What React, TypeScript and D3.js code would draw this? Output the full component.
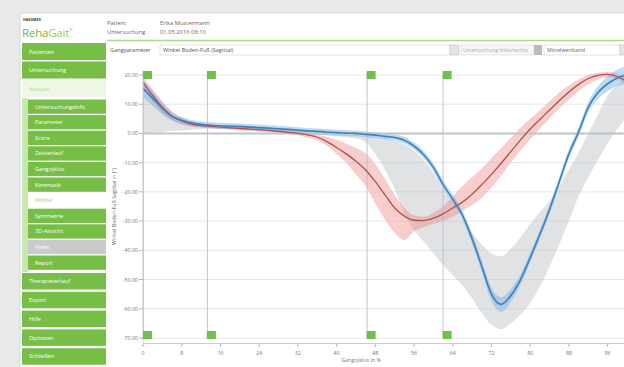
import React from "react";
import * as d3 from "d3";

const PCT = [0,2,4,6,8,10,12,14,20,26,30,34,36,38,40,42,44,46,48,50,52,54,56,58,60,62,64,66,68,70,72,74,76,78,80,82,84,86,88,90,92,94,96,98,100];
const RED_MEAN = [17.5,13,9,6,4.3,3.2,2.7,2.4,1.7,1,0.4,-0.5,-1.3,-2.8,-4.8,-7,-9.5,-12.5,-16.5,-21,-25.5,-28.3,-29.7,-29.8,-29,-27.5,-25.5,-23.5,-20.8,-17.5,-14,-10.2,-6.2,-2.2,1.5,4.8,8,11.2,14.2,16.8,18.8,19.9,20.2,19.4,17.8];
const RED_HI = [19.5,15,11,7.5,5.5,4.2,3.5,3.1,2.4,1.6,1,0.2,-0.4,-1.2,-2.2,-3.5,-5,-6.8,-10.5,-15.5,-21,-25.5,-28,-28.5,-27.2,-25,-21.5,-18,-15,-12,-8.5,-5,-1.5,2,5,8,11,14,16.5,18.5,20,20.8,21,20.4,18.8];
const RED_LO = [15.5,11,7,4.5,3,2.3,2,1.8,1.1,0.4,-0.3,-1.4,-2.4,-4.2,-7,-10,-14,-18,-24,-29.5,-34,-36.5,-33.5,-32,-31,-30,-28.5,-26.5,-24.5,-22,-18.5,-14.5,-10,-5.8,-2,1.5,5,8.5,11.5,14.5,16.8,18.4,19.2,18.5,16.5];
const BLUE_MEAN = [15.4,12,8.6,5.8,4.5,3.6,3.1,2.8,2.4,1.8,1.4,0.9,0.7,0.5,0.3,0.1,0,-0.3,-0.6,-1,-1.4,-2.3,-4.3,-7.3,-11.6,-17.5,-22.5,-28,-36,-45.5,-55,-58.5,-55.5,-50,-42.5,-34.5,-26,-16.5,-7,0.5,9,14,17,19,20];
const BLUE_SD = [3,2.6,2,1.4,1.1,1,1,1,1,1,1,1,1,1,1,1,1,1,1,1,1,1.1,1.2,1.3,1.4,1.5,1.6,1.7,1.8,2,2.3,2.5,2.2,1.8,1.6,1.5,1.5,1.5,1.5,1.6,1.8,2.2,2.6,2.8,3];
const NORM_HI = [17,13,9,6,4.5,3.5,2.9,2.6,2.2,1.7,1.3,0.8,0.5,0.3,0,-0.2,-0.4,-0.7,-1.1,-1.6,-2.4,-3.8,-6,-9.3,-13.5,-19,-24,-29.5,-34,-38,-41,-42,-39.5,-35.5,-31,-27,-23,-18,-12.5,-6.5,0,6.5,13,16.5,18.5];
const NORM_LO = [0,0.2,0.5,0.8,1,1.3,1.5,1.7,1.4,1,0.6,0,-0.4,-0.7,-1,-1.3,-1.7,-3,-7,-12.5,-19,-27.5,-33,-37,-41,-45,-48.5,-52,-56.5,-61.5,-65.5,-67,-65,-62,-58,-52.5,-45.5,-38,-30,-21.5,-15,-9,-3.4,1.5,5.5];
const EVENTS = [0, 13.2, 46.2, 61.9];
const Y_TICKS = [20,10,0,-10,-20,-30,-40,-50,-60,-70];
const X_TICKS = [0,8,16,24,32,40,48,56,64,72,80,88,96];

const MENU_TOP = ["Patienten","Untersuchung","Analyse"];
const MENU_SUB = ["Untersuchungsinfo","Parameter","Score","Zeitverlauf","Gangzyklus","Kinematik","Winkel","Symmetrie","3D-Ansicht","Video","Report"];
const MENU_BOTTOM = ["Therapieverlauf","Export","Hilfe","Optionen","Schließen"];

const FONT = "'Open Sans', 'DejaVu Sans', sans-serif";
const GREEN = "#76be45";

export default function App() {
  const x = d3.scaleLinear().domain([0, 100]).range([143, 627]);
  const y = d3.scaleLinear().domain([-70, 20]).range([338, 75]);
  const fmt = d3.formatLocale({ decimal: ".", thousands: ",", grouping: [3], currency: ["", ""], minus: "-" }).format(".2f");

  const idx = PCT.map((_, i) => i);
  const band = (hi: number[], lo: number[]) =>
    d3.area<number>().x(i => x(PCT[i])).y0(i => y(lo[i])).y1(i => y(hi[i])).curve(d3.curveMonotoneX)(idx) || "";
  const line = (v: number[]) =>
    d3.line<number>().x(i => x(PCT[i])).y(i => y(v[i])).curve(d3.curveMonotoneX)(idx) || "";
  const blueHi = BLUE_MEAN.map((v, i) => v + BLUE_SD[i]);
  const blueLo = BLUE_MEAN.map((v, i) => v - BLUE_SD[i]);

  const menuItem = (label: string, x0: number, y0: number, h: number, kind: string, key: string) => {
    let fill = GREEN, color = "#ffffff";
    if (kind === "active") { fill = "#eef7e6"; color = "#b5da98"; }
    if (kind === "selected") { fill = "#ffffff"; color = "#9fd07c"; }
    if (kind === "gray") { fill = "#c9cacc"; color = "#ffffff"; }
    return (
      <g key={key}>
        <rect x={x0} y={y0} width={106 - x0} height={h} fill={fill} />
        <text x={x0 + 7} y={y0 + h / 2 + 2} fontSize={5.6} fill={color} fontFamily={FONT}>{label}</text>
      </g>
    );
  };

  return (
    <svg width={624} height={367} style={{ position: "absolute", left: 0, top: 0, display: "block" }}>
      <defs>
        <clipPath id="plot"><rect x={143} y={60} width={481} height={283} /></clipPath>
      </defs>
      <rect x={0} y={0} width={624} height={367} fill="#e8e9ea" />
      <rect x={20} y={13} width={610} height={360} fill="#ffffff" stroke="#cdd0d2" strokeWidth={0.8} />

      {/* header */}
      <text x={23} y={21} fontSize={3.6} fontWeight="bold" fill="#333" fontFamily={FONT}>HASOMED</text>
      <text x={22} y={37} fontSize={11.5} fontFamily={FONT} letterSpacing={-0.2}>
        <tspan fill="#6fb843">Reha</tspan><tspan fill="#8fcb68">Gait</tspan><tspan fill="#999" fontSize={4} dy={-6}>®</tspan>
      </text>
      <text x={107} y={25} fontSize={5.8} fill="#666" fontFamily={FONT}>Patient</text>
      <text x={107} y={34} fontSize={5.8} fill="#666" fontFamily={FONT}>Untersuchung</text>
      <text x={160} y={25} fontSize={5.8} fill="#666" fontFamily={FONT}>Erika Mustermann</text>
      <text x={160} y={34} fontSize={5.8} fill="#666" fontFamily={FONT}>01.05.2016 08:10</text>
      <line x1={107} x2={624} y1={40.5} y2={40.5} stroke="#a9d98a" strokeWidth={1.4} />

      {/* sidebar */}
      {MENU_TOP.map((m, i) => menuItem(m, 22, 43 + i * 18.5, 17, m === "Analyse" ? "active" : "", "t" + i))}
      <rect x={22} y={98} width={6} height={174} fill="#c8e6b0" />
      {MENU_SUB.map((m, i) => menuItem(m, 28, 99.5 + i * 15.6, 14.3, m === "Winkel" ? "selected" : m === "Video" ? "gray" : "", "s" + i))}
      {MENU_BOTTOM.map((m, i) => menuItem(m, 22, 273 + i * 18.8, 16.5, "", "b" + i))}

      {/* toolbar */}
      <text x={110} y={51.5} fontSize={5.5} fill="#555" fontFamily={FONT}>Gangparameter</text>
      <rect x={160} y={45} width={290} height={10} fill="#fff" stroke="#cfcfcf" strokeWidth={0.6} />
      <text x={163} y={51.8} fontSize={5.5} fill="#555" fontFamily={FONT}>Winkel Boden-Fuß (Sagittal)</text>
      <rect x={450} y={45} width={9} height={10} fill="#e4e4e4" stroke="#c4c4c4" strokeWidth={0.6} />
      <rect x={461} y={45} width={73} height={10} fill="#f7f7f7" stroke="#d8d8d8" strokeWidth={0.6} />
      <text x={463} y={51.8} fontSize={5.3} fill="#aaa" fontFamily={FONT}>Untersuchung links/rechts</text>
      <rect x={534} y={45} width={8} height={10} fill="#b8babd" />
      <rect x={544} y={45} width={76} height={10} fill="#fff" stroke="#cfcfcf" strokeWidth={0.6} />
      <text x={547} y={51.8} fontSize={5.3} fill="#666" fontFamily={FONT}>Mittelwertband</text>
      <rect x={620} y={45} width={9} height={10} fill="#e4e4e4" stroke="#c4c4c4" strokeWidth={0.6} />

      {/* plot */}
      <g clipPath="url(#plot)">
        <path d={band(NORM_HI, NORM_LO)} fill="rgba(175,178,182,0.38)" />
        <path d={band(RED_HI, RED_LO)} fill="rgba(234,120,110,0.36)" />
        <path d={band(blueHi, blueLo)} fill="rgba(110,175,228,0.45)" />
        {Y_TICKS.filter(t => t !== 0).map(t => (
          <line key={"g" + t} x1={143} x2={624} y1={y(t)} y2={y(t)} stroke="rgba(190,202,214,0.45)" strokeWidth={1} />
        ))}
        <line x1={143} x2={624} y1={y(0)} y2={y(0)} stroke="#bcc4cc" strokeWidth={2} />
        {EVENTS.map(e => (
          <line key={"e" + e} x1={x(e) + 0.5} x2={x(e) + 0.5} y1={75} y2={338} stroke="#b3bfcb" strokeWidth={0.9} />
        ))}
        <path d={line(RED_MEAN)} fill="none" stroke="#b24f4f" strokeWidth={1.3} />
        <path d={line(BLUE_MEAN)} fill="none" stroke="#3e82c1" strokeWidth={1.7} />
      </g>

      {/* axes */}
      <line x1={143} x2={143} y1={70} y2={343} stroke="#c6cfd8" strokeWidth={1} />
      <line x1={143} x2={624} y1={343.5} y2={343.5} stroke="#c6cfd8" strokeWidth={1} />
      {Y_TICKS.map(t => (
        <g key={"y" + t}>
          <line x1={139} x2={143} y1={y(t)} y2={y(t)} stroke="#999" strokeWidth={0.7} />
          <text x={138} y={y(t) + 2} fontSize={5.3} textAnchor="end" fill="#777" fontFamily={FONT}>{fmt(t)}</text>
        </g>
      ))}
      {X_TICKS.map(t => (
        <g key={"x" + t}>
          <line x1={x(t)} x2={x(t)} y1={344} y2={347} stroke="#999" strokeWidth={0.7} />
          <text x={x(t)} y={355} fontSize={5.3} textAnchor="middle" fill="#777" fontFamily={FONT}>{t}</text>
        </g>
      ))}
      <text x={361} y={362} fontSize={5.3} textAnchor="middle" fill="#777" fontFamily={FONT}>Gangzyklus in %</text>
      <text transform={`translate(116,${y(-25)}) rotate(-90)`} fontSize={5.3} textAnchor="middle" fill="#666" fontFamily={FONT}>Winkel Boden-Fuß Sagittal in (°)</text>

      {/* event markers */}
      {EVENTS.map(e => (
        <g key={"m" + e}>
          <rect x={x(e)} y={71} width={9} height={8} fill="#6fc14c" />
          <rect x={x(e)} y={331} width={9} height={8} fill="#6fc14c" />
        </g>
      ))}
    </svg>
  );
}
